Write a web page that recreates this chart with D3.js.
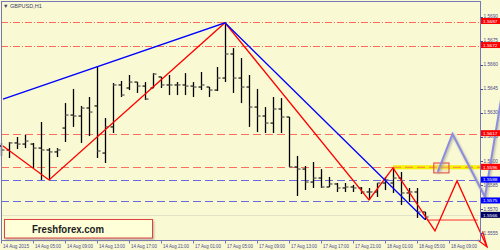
<!DOCTYPE html>
<html>
<head>
<meta charset="utf-8">
<script src="https://cdn.jsdelivr.net/npm/d3@7"></script>
<style>
  body { margin: 0; background: #fafad2; }
  svg { display: block; }
</style>
</head>
<body>
<div id="chart"></div>
<script>
// GBPUSD H1 bars (index 0 = 14 Aug 2015 01:00)
const barOpen  = [1.56093,1.56068,1.56112,1.56105,1.56105,1.56080,1.56068,1.56056,1.56205,1.56286,
                  1.56280,1.56330,1.56343,1.56049,1.56212,1.56474,1.56455,1.56492,1.56467,1.56455,
                  1.56524,1.56474,1.56474,1.56474,1.56467,1.56461,1.56461,1.56442,1.56517,1.56667,
                  1.56517,1.56461,1.56336,1.56280,1.56236,1.56324,1.56274,1.55962,1.55949,1.55868,
                  1.55893,1.55837,1.55856,1.55831,1.55837,1.55831,1.55806,1.55806,1.55862,1.55862,
                  1.55893,1.55800,1.55806,1.55681];
const barHigh  = [1.56112,1.56118,1.56149,1.56162,1.56112,1.56243,1.56080,1.56080,1.56361,1.56449,
                  1.56343,1.56399,1.56592,1.56268,1.56486,1.56499,1.56536,1.56492,1.56492,1.56548,
                  1.56524,1.56536,1.56492,1.56548,1.56492,1.56555,1.56461,1.56586,1.56862,1.56704,
                  1.56642,1.56536,1.56449,1.56336,1.56399,1.56392,1.56274,1.56031,1.55968,1.55993,
                  1.55949,1.55900,1.55862,1.55862,1.55850,1.55837,1.55831,1.55862,1.55900,1.55956,
                  1.55931,1.55831,1.55831,1.55681];
const barLow   = [1.56031,1.56018,1.56074,1.56080,1.55956,1.55881,1.55881,1.56024,1.56118,1.56212,
                  1.56112,1.56155,1.56018,1.55987,1.56174,1.56399,1.56442,1.56424,1.56380,1.56455,
                  1.56455,1.56411,1.56411,1.56411,1.56399,1.56442,1.56399,1.56436,1.56492,1.56424,
                  1.56361,1.56212,1.56180,1.56174,1.56174,1.56174,1.55962,1.55781,1.55818,1.55831,
                  1.55831,1.55837,1.55806,1.55806,1.55806,1.55793,1.55756,1.55775,1.55818,1.55800,
                  1.55725,1.55744,1.55644,1.55631];
const barClose = [1.56068,1.56112,1.56105,1.56124,1.56080,1.56068,1.56056,1.56068,1.56286,1.56280,
                  1.56330,1.56305,1.56062,1.56212,1.56474,1.56411,1.56492,1.56467,1.56386,1.56542,
                  1.56474,1.56474,1.56474,1.56467,1.56461,1.56474,1.56442,1.56517,1.56667,1.56517,
                  1.56461,1.56336,1.56280,1.56236,1.56324,1.56274,1.55962,1.55949,1.55868,1.55893,
                  1.55837,1.55856,1.55831,1.55837,1.55831,1.55806,1.55806,1.55862,1.55881,1.55893,
                  1.55800,1.55806,1.55681,1.55650];

// time axis labels, one every 4 bars
const timeLabels = ["14 Aug 2015","14 Aug 05:00","14 Aug 09:00","14 Aug 13:00","14 Aug 17:00",
                    "14 Aug 21:00","17 Aug 01:00","17 Aug 05:00","17 Aug 09:00","17 Aug 13:00",
                    "17 Aug 17:00","17 Aug 21:00","18 Aug 01:00","18 Aug 05:00","18 Aug 09:00"];
const priceTicks = [1.5690,1.5675,1.5660,1.5645,1.5630,1.5615,1.5600,1.5585,1.5570,1.5555];

// horizontal levels
const dashDotLevels = [1.5687, 1.5672];
const redDashLevels = [1.5617, 1.5596];
const blueDashLevels = [1.5588, 1.5575];
const bidLevel = 1.5566;

// zigzags as [bar index, price]
const blueZigzag = [[0.25,1.56386],[28,1.56862],[53,1.55634]];
const redZigzag  = [[0.25,1.56093],[6,1.55881],[28,1.56862],[46,1.55756],[49,1.55956],
                    [54.25,1.55563],[57,1.55875],[60.75,1.55463]];
const redArrow   = [[59.6,1.55506],[60.75,1.55463],[60.2,1.55560]];
const forecastPath = [[54.6,1.55931],[56.44,1.56168],[60.5,1.55775],[62.6,1.56411]];

// segments: [from index, to index, price]
const thickRedSegments = [[6,44.9,1.55880],[46,56,1.55756]];
const thinRedSegment = [53.25,59.6,1.55631];
const yellowSegment = [49,59.9,1.55960];
const zoneBox = [54.1,56,1.55987,1.55925];

// price tags on the right edge
const tagPrices = [1.5687,1.5672,1.5617,1.5596,1.5588,1.5575,1.5566];
const tagColors = ["#ff0000","#ff0000","#ff0000","#ff0000","#0000ff","#0000ff","#000060"];

const width = 500, height = 250;
const plotRight = 480.5, plotBottom = 240.5;

const svg = d3.select("#chart").append("svg")
    .attr("width", width)
    .attr("height", height);

const defs = svg.append("defs");
defs.append("filter").attr("id", "shade")
    .attr("x", "-20%").attr("y", "-20%").attr("width", "140%").attr("height", "140%")
    .append("feDropShadow")
    .attr("dx", 1).attr("dy", 1.5).attr("stdDeviation", 1)
    .attr("flood-color", "#808080").attr("flood-opacity", 0.6);

svg.append("rect").attr("width", width).attr("height", height).attr("fill", "#f9f9d3");

const x = d3.scaleLinear().domain([0, 60]).range([1, 481]);
const y = d3.scaleLinear().domain([1.5555, 1.5690]).range([233, 16.7]);

// level lines
const levels = svg.append("g");
levels.selectAll(".dd").data(dashDotLevels).enter().append("line")
    .attr("x1", 1).attr("x2", plotRight)
    .attr("y1", d => Math.round(y(d)) + 0.5).attr("y2", d => Math.round(y(d)) + 0.5)
    .attr("stroke", "#ff6a5a").attr("stroke-width", 1)
    .attr("stroke-dasharray", "7,2,1,2");
levels.selectAll(".rd").data(redDashLevels).enter().append("line")
    .attr("x1", 1).attr("x2", plotRight)
    .attr("y1", d => Math.round(y(d)) + 0.5).attr("y2", d => Math.round(y(d)) + 0.5)
    .attr("stroke", "#ff7060").attr("stroke-width", 1)
    .attr("stroke-dasharray", "8,4");
levels.selectAll(".bd").data(blueDashLevels).enter().append("line")
    .attr("x1", 1).attr("x2", plotRight)
    .attr("y1", d => Math.round(y(d)) + 0.5).attr("y2", d => Math.round(y(d)) + 0.5)
    .attr("stroke", "#6a6ae0").attr("stroke-width", 1)
    .attr("stroke-dasharray", "8,4");
levels.append("line")
    .attr("x1", 1).attr("x2", plotRight)
    .attr("y1", Math.round(y(bidLevel)) + 0.5).attr("y2", Math.round(y(bidLevel)) + 0.5)
    .attr("stroke", "#e2e2c8").attr("stroke-width", 1);

// yellow band + zone box
svg.append("line")
    .attr("x1", x(yellowSegment[0])).attr("x2", x(yellowSegment[1]))
    .attr("y1", y(yellowSegment[2])).attr("y2", y(yellowSegment[2]))
    .attr("stroke", "#f4f000").attr("stroke-width", 4);
svg.append("line")
    .attr("x1", x(yellowSegment[0])).attr("x2", x(yellowSegment[1]))
    .attr("y1", y(yellowSegment[2])).attr("y2", y(yellowSegment[2]))
    .attr("stroke", "#ff8040").attr("stroke-width", 1)
    .attr("stroke-dasharray", "8,4");
svg.append("rect")
    .attr("x", x(zoneBox[0])).attr("y", y(zoneBox[2]))
    .attr("width", x(zoneBox[1]) - x(zoneBox[0]))
    .attr("height", y(zoneBox[3]) - y(zoneBox[2]))
    .attr("fill", "#f0c8a0").attr("fill-opacity", 0.35)
    .attr("stroke", "#e04040").attr("stroke-width", 1);

// thick red support lines
svg.selectAll(".thick").data(thickRedSegments).enter().append("line")
    .attr("x1", d => x(d[0])).attr("x2", d => x(d[1]))
    .attr("y1", d => y(d[2])).attr("y2", d => y(d[2]))
    .attr("stroke", "#ff0000").attr("stroke-width", 2)
    .attr("filter", "url(#shade)");
svg.append("line")
    .attr("x1", x(thinRedSegment[0])).attr("x2", x(thinRedSegment[1]))
    .attr("y1", y(thinRedSegment[2])).attr("y2", y(thinRedSegment[2]))
    .attr("stroke", "#ff3030").attr("stroke-width", 1);

// OHLC bars
const bars = svg.append("g");
const idx = d3.range(barOpen.length);
bars.selectAll(".hl").data(idx).enter().append("line")
    .attr("x1", i => Math.round(x(i)) + 0.5).attr("x2", i => Math.round(x(i)) + 0.5)
    .attr("y1", i => y(barHigh[i])).attr("y2", i => y(barLow[i]))
    .attr("stroke", "#000").attr("stroke-width", 1.3);
bars.selectAll(".op").data(idx).enter().append("line")
    .attr("x1", i => Math.round(x(i)) - 2.5).attr("x2", i => Math.round(x(i)) + 0.5)
    .attr("y1", i => y(barOpen[i])).attr("y2", i => y(barOpen[i]))
    .attr("stroke", "#202020").attr("stroke-width", 1.3);
bars.selectAll(".cl").data(idx).enter().append("line")
    .attr("x1", i => Math.round(x(i)) + 0.5).attr("x2", i => Math.round(x(i)) + 3.5)
    .attr("y1", i => y(barClose[i])).attr("y2", i => y(barClose[i]))
    .attr("stroke", "#707070").attr("stroke-width", 1.5);

// zigzag lines
const line = d3.line().x(d => x(d[0])).y(d => y(d[1]));
svg.append("path").datum(redZigzag)
    .attr("d", line).attr("fill", "none")
    .attr("stroke", "#ff0000").attr("stroke-width", 1.3);
svg.append("path").datum(redArrow)
    .attr("d", line).attr("fill", "none")
    .attr("stroke", "#ff0000").attr("stroke-width", 1.3);
svg.append("path").datum(blueZigzag)
    .attr("d", line).attr("fill", "none")
    .attr("stroke", "#0000ff").attr("stroke-width", 1.3);

// frame
svg.append("rect")
    .attr("x", 1.5).attr("y", 1.5)
    .attr("width", plotRight - 1.5).attr("height", plotBottom - 1.5)
    .attr("fill", "none").attr("stroke", "#7878b8").attr("stroke-width", 1);

// title
svg.append("text")
    .attr("x", 3).attr("y", 7.5)
    .attr("font-family", "Liberation Sans, Arial, sans-serif")
    .attr("font-size", 5.5).attr("fill", "#404070")
    .text("\u25BC GBPUSD,H1");

// time axis
const tAxis = svg.append("g");
tAxis.selectAll("line").data(timeLabels).enter().append("line")
    .attr("x1", (d, i) => Math.round(x(i * 4)) + 0.5).attr("x2", (d, i) => Math.round(x(i * 4)) + 0.5)
    .attr("y1", plotBottom).attr("y2", plotBottom + 3)
    .attr("stroke", "#7878b8");
tAxis.selectAll("text").data(timeLabels).enter().append("text")
    .attr("x", (d, i) => x(i * 4) + 2).attr("y", 248)
    .attr("font-family", "Liberation Sans, Arial, sans-serif")
    .attr("font-size", 5).attr("fill", "#4a4a90")
    .attr("textLength", 26).attr("lengthAdjust", "spacingAndGlyphs")
    .text(d => d);

// price axis
const pAxis = svg.append("g");
pAxis.selectAll("line").data(priceTicks).enter().append("line")
    .attr("x1", plotRight).attr("x2", plotRight + 2.5)
    .attr("y1", d => Math.round(y(d)) + 0.5).attr("y2", d => Math.round(y(d)) + 0.5)
    .attr("stroke", "#4a4a90");
pAxis.selectAll("text").data(priceTicks).enter().append("text")
    .attr("x", 483.5).attr("y", d => y(d) + 1.6)
    .attr("font-family", "Liberation Sans, Arial, sans-serif")
    .attr("font-size", 4.6).attr("fill", "#4a4a90")
    .attr("textLength", 14.5).attr("lengthAdjust", "spacingAndGlyphs")
    .text(d => d.toFixed(4));

// forecast path (drawn over the axis area)
svg.append("path").datum(forecastPath)
    .attr("d", line).attr("fill", "none")
    .attr("stroke", "#8c8ce0").attr("stroke-width", 2)
    .attr("filter", "url(#shade)");

// price tags
const tags = svg.append("g");
tags.selectAll("rect").data(tagPrices).enter().append("rect")
    .attr("x", 481).attr("y", d => y(d) - 3.5)
    .attr("width", 19).attr("height", 6)
    .attr("fill", (d, i) => tagColors[i]);
tags.selectAll("text").data(tagPrices).enter().append("text")
    .attr("x", 483).attr("y", d => y(d) + 1.2)
    .attr("font-family", "Liberation Sans, Arial, sans-serif")
    .attr("font-size", 4.4).attr("fill", "#ffffff")
    .attr("textLength", 14.5).attr("lengthAdjust", "spacingAndGlyphs")
    .text(d => d.toFixed(4));

// watermark badge
svg.append("rect")
    .attr("x", 4.5).attr("y", 219.5).attr("width", 148).attr("height", 18.5)
    .attr("fill", "#ffffd8").attr("stroke", "#e04040").attr("stroke-width", 1)
    .attr("filter", "url(#shade)");
svg.append("text")
    .attr("x", 32).attr("y", 232.5)
    .attr("font-family", "Liberation Sans, Arial, sans-serif")
    .attr("font-weight", "bold").attr("font-size", 10.5).attr("fill", "#202020")
    .attr("textLength", 72).attr("lengthAdjust", "spacingAndGlyphs")
    .text("Freshforex.com");
</script>
</body>
</html>
